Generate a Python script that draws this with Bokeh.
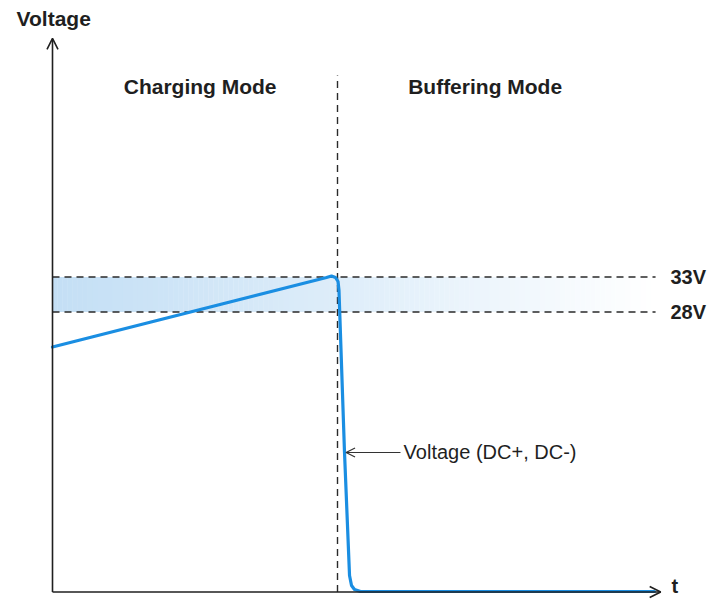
from bokeh.plotting import figure
from bokeh.models import Range1d, Arrow, OpenHead
from bokeh.core.properties import value
from bokeh.embed import file_html
from bokeh.resources import INLINE
import numpy as np

# ---- data (schematic units: t = time, level = voltage level) ----
curve_t = [0.0, 48.07, 48.95, 49.65, 50.09, 50.26, 51.23, 52.11, 52.46, 52.98, 54.04, 105.6]
curve_v = [35.0, 44.93, 45.14, 44.93, 44.36, 43.07, 19.93, 2.36, 0.93, 0.36, 0.07, 0.07]

level_names = ["33V", "28V"]
level_values = [45.0, 40.0]

mode_names = ["Charging Mode", "Buffering Mode"]
mode_centers = [25.9, 75.9]
mode_switch_t = 50.0

t_end = 105.8
axis_t_tip = 106.7
axis_v_tip = 79.1

FONT = "Liberation Sans"
INK = "#1f1f1f"
BLUE = "#1a8ee2"
DASH = "#2a2a2a"

p = figure(width=725, height=599, output_backend="svg", toolbar_location=None,
           x_axis_type=None, y_axis_type=None,
           x_range=Range1d(-9.123, 118.07), y_range=Range1d(-1.071, 84.5),
           min_border=0)
p.outline_line_color = None
p.grid.visible = False
p.background_fill_color = "white"

# gradient band between the two thresholds
n = 120
edges = np.linspace(0, t_end, n + 1)
c0 = np.array([196, 223, 245])
c1 = np.array([255, 255, 255])
cols = []
for i in range(n):
    f = ((i + 0.5) / n) ** 1.1
    c = c0 + (c1 - c0) * f
    cols.append("#%02x%02x%02x" % tuple(int(round(x)) for x in c))
p.quad(left=edges[:-1], right=edges[1:] + 0.05, bottom=level_values[1], top=level_values[0],
       fill_color=cols, line_color=None)

# dashed threshold lines
for lv in level_values:
    p.line([0, t_end], [lv, lv], line_color=DASH, line_width=1.4, line_dash="7 5")

# dashed mode switch line
p.line([mode_switch_t, mode_switch_t], [0, 73.8], line_color=DASH, line_width=1.4, line_dash="7 5")

# axes as arrows
p.add_layout(Arrow(end=OpenHead(size=11, line_color=INK, line_width=1.6),
                   x_start=0, y_start=0, x_end=0, y_end=axis_v_tip,
                   line_color=INK, line_width=1.6))
p.add_layout(Arrow(end=OpenHead(size=11, line_color=INK, line_width=1.6),
                   x_start=0, y_start=0, x_end=axis_t_tip, y_end=0,
                   line_color=INK, line_width=1.6))

# voltage curve
p.line(curve_t, curve_v, line_color=BLUE, line_width=3.2, line_join="round", line_cap="round")

# annotation arrow
p.add_layout(Arrow(end=OpenHead(size=9, line_color="#333333", line_width=1.2),
                   x_start=61.05, y_start=19.93, x_end=51.5, y_end=19.93,
                   line_color="#333333", line_width=1.2))
p.text(x=[61.6], y=[19.93], text=["Voltage (DC+, DC-)"], text_font=value(FONT),
       text_font_size="20px", text_color=INK, text_baseline="middle", text_align="left")

# mode titles
p.text(x=mode_centers, y=[72.2, 72.2], text=mode_names, text_font=value(FONT),
       text_font_style="bold", text_font_size="21px", text_color=INK,
       text_baseline="middle", text_align="center")

# level labels
p.text(x=[108.4, 108.4], y=level_values, text=level_names, text_font=value(FONT),
       text_font_style="bold", text_font_size="20px", text_color=INK,
       text_baseline="middle", text_align="left")

# axis labels
p.text(x=[-6.3], y=[81.9], text=["Voltage"], text_font=value(FONT),
       text_font_style="bold", text_font_size="21px", text_color=INK,
       text_baseline="middle", text_align="left")
p.text(x=[108.6], y=[0.9], text=["t"], text_font=value(FONT),
       text_font_style="bold", text_font_size="20px", text_color=INK,
       text_baseline="middle", text_align="left")

open("out.html", "w").write(file_html(p, INLINE))
